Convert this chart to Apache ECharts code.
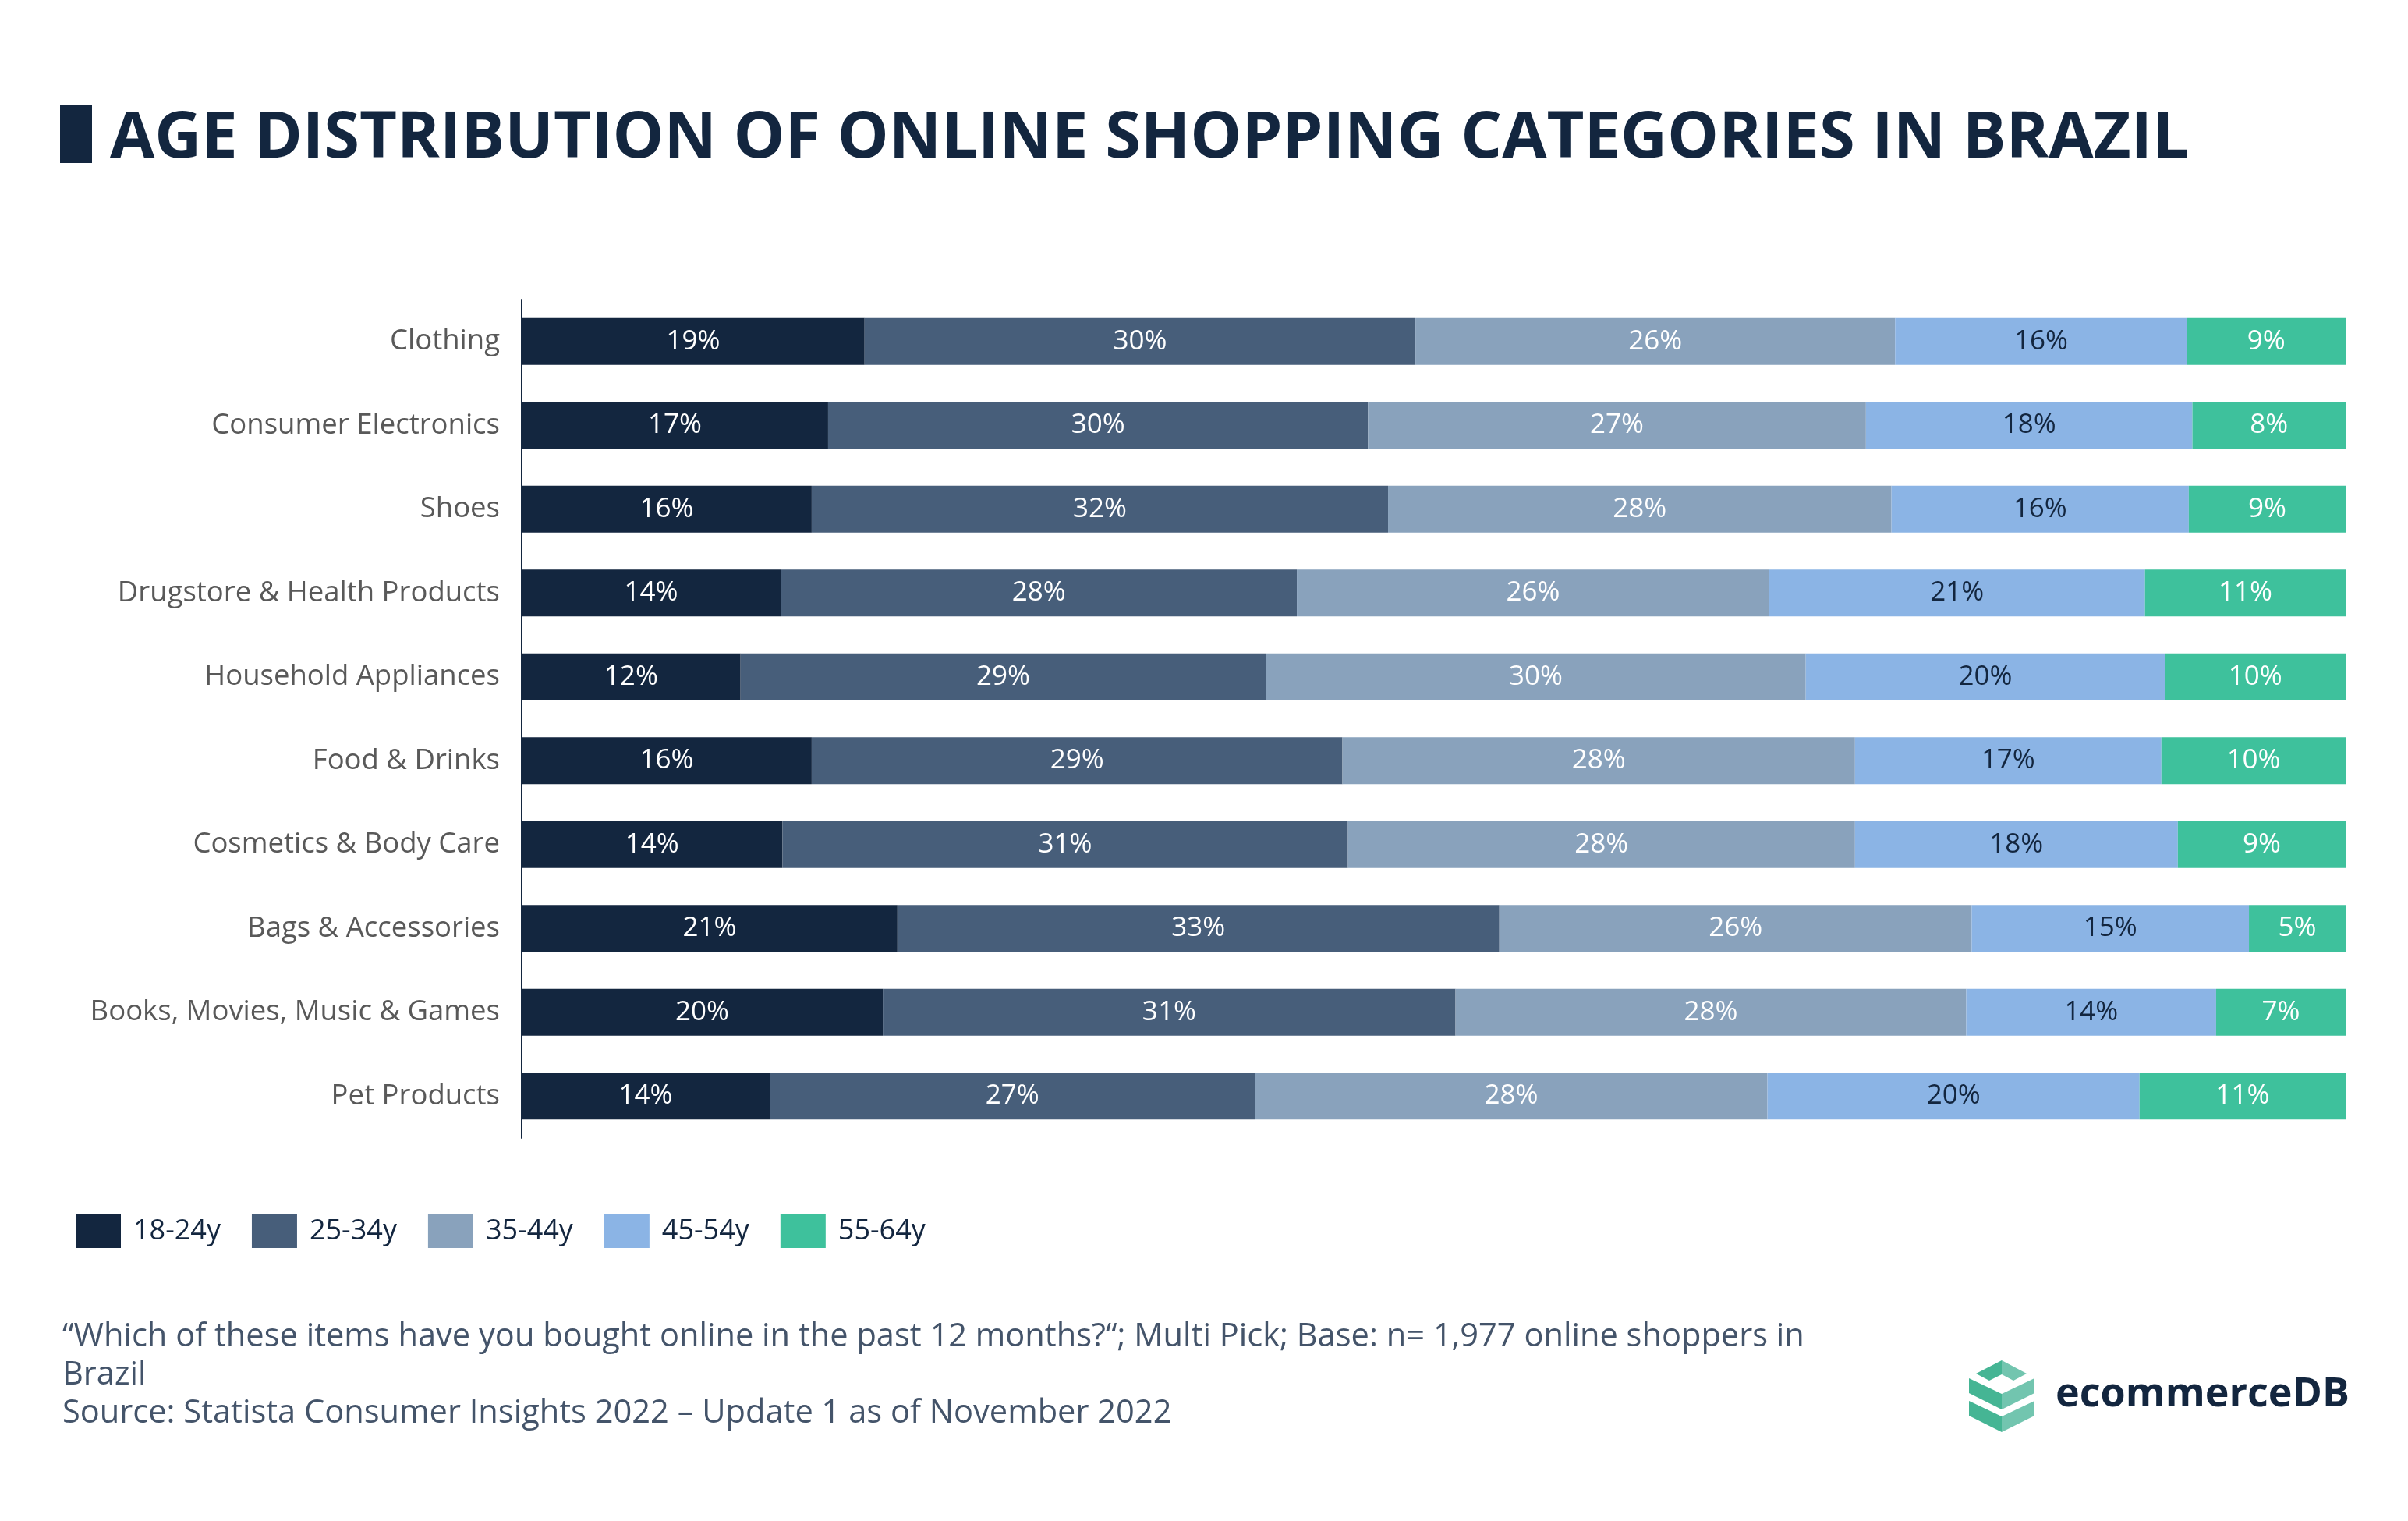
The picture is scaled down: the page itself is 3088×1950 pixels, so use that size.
<!DOCTYPE html>
<html>
<head>
<meta charset="utf-8">
<script src="https://cdn.jsdelivr.net/npm/echarts@6/dist/echarts.min.js"></script>
<style>
html,body{margin:0;padding:0;background:#fff;}
#chart{width:3088px;height:1950px;}
</style>
</head>
<body>
<div id="chart"></div>
<script>
const categories = ["Clothing","Consumer Electronics","Shoes","Drugstore & Health Products","Household Appliances","Food & Drinks","Cosmetics & Body Care","Bags & Accessories","Books, Movies, Music & Games","Pet Products"];
const seriesNames = ["18-24y","25-34y","35-44y","45-54y","55-64y"];
const s18_24 = [18.8,16.8,15.9,14.2,12.0,15.9,14.3,20.6,19.8,13.6];
const s25_34 = [30.2,29.6,31.6,28.3,28.8,29.1,31.0,33.0,31.4,26.6];
const s35_44 = [26.3,27.3,27.6,25.9,29.6,28.1,27.8,25.9,28.0,28.1];
const s45_54 = [16.0,17.9,16.3,20.6,19.7,16.8,17.7,15.2,13.7,20.4];
const s55_64 = [8.7,8.4,8.6,11.0,9.9,10.1,9.2,5.3,7.1,11.3];
const titleText = "AGE DISTRIBUTION OF ONLINE SHOPPING CATEGORIES IN BRAZIL";
const footerText = "\u201cWhich of these items have you bought online in the past 12 months?\u201c; Multi Pick; Base: n= 1,977 online shoppers in\nBrazil\nSource: Statista Consumer Insights 2022 \u2013 Update 1 as of November 2022";

const colors = ["#13263f","#475e7a","#89a2bc","#8bb4e5","#3ec19c"];
const labelColors = ["#ffffff","#ffffff","#ffffff","#13263f","#ffffff"];
const allData = [s18_24,s25_34,s35_44,s45_54,s55_64];
const FONT = "'Open Sans', sans-serif";

const chart = echarts.init(document.getElementById('chart'), null, {renderer:'canvas'});

const series = seriesNames.map((n,i)=>({
  name:n, type:'bar', stack:'total', data:allData[i], barWidth:60,
  itemStyle:{color:colors[i]},
  label:{show:true, position:'inside', color:labelColors[i], fontFamily:FONT, fontSize:35,
    formatter:p=>Math.round(p.value)+'%'},
  emphasis:{disabled:true}
}));

const topL = [[2534,1761],[2567,1744],[2567,1762],[2551,1770]];
const topR = [[2567,1744],[2599,1761],[2582,1770],[2567,1762]];
function chev(dy){
  return {
    L:[[2525,1767+dy],[2567,1787+dy],[2567,1807+dy],[2525,1786+dy]],
    R:[[2567,1787+dy],[2609,1767+dy],[2609,1786+dy],[2567,1807+dy]]
  };
}
const c1 = chev(0), c2 = chev(29);
const dark = "#45b594", light = "#72c5af";
const logoShapes = [topL,c1.L,c2.L].map(p=>({type:'polygon',shape:{points:p},style:{fill:dark}}))
  .concat([topR,c1.R,c2.R].map(p=>({type:'polygon',shape:{points:p},style:{fill:light}})));

chart.setOption({
  backgroundColor:'#ffffff',
  animation:false,
  color:colors,
  grid:{left:669, right:80, top:384, height:1075, containLabel:false},
  xAxis:{type:'value', min:0, max:100, show:false},
  yAxis:{type:'category', data:categories, inverse:true,
    axisLine:{show:true, lineStyle:{color:'#13263f', width:2}},
    axisTick:{show:false},
    axisLabel:{color:'#595959', fontFamily:FONT, fontSize:36.5, margin:28}},
  legend:{data:seriesNames, left:92, top:1552, itemWidth:58, itemHeight:43, itemGap:40,
    icon:'rect',
    textStyle:{color:'#13263f', fontFamily:FONT, fontSize:36, padding:[0,0,0,11]}},
  series:series,
  graphic:[
    {type:'rect', shape:{x:77,y:134,width:41,height:75}, style:{fill:'#13263f'}},
    {type:'text', left:141, top:137, style:{text:titleText, fill:'#13263f', font:"bold 83px 'Open Sans'"}},
    {type:'text', left:80, top:1690, style:{text:footerText, fill:'#44546a', font:"41.6px 'Open Sans'", lineHeight:49}},
    {type:'group', children:logoShapes},
    {type:'text', left:2636, top:1762, style:{text:'ecommerceDB', fill:'#13263f', font:"bold 52px 'Open Sans'"}}
  ]
});
</script>
</body>
</html>
